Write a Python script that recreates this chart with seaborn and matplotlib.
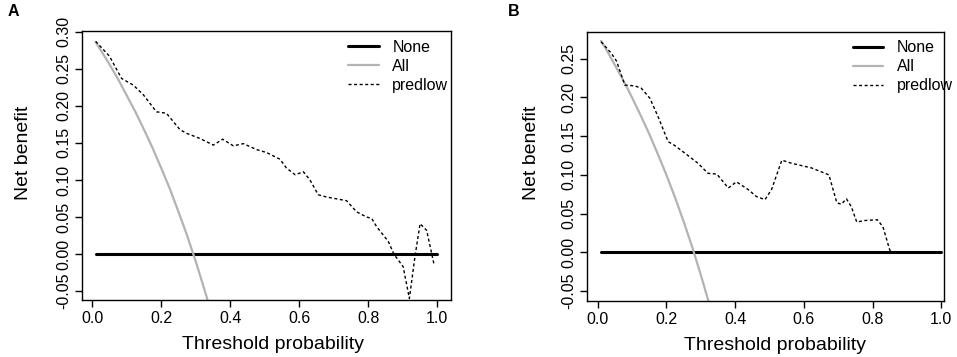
import numpy as np
import seaborn as sns
import matplotlib
matplotlib.use("Agg")
import matplotlib.pyplot as plt

# Panel A data
a_all_x = [0.01, 0.025, 0.05, 0.075, 0.10, 0.125, 0.15, 0.175, 0.20, 0.225, 0.25, 0.275, 0.30, 0.32, 0.34]
a_all_y = [0.286, 0.275, 0.256, 0.236, 0.214, 0.192, 0.168, 0.143, 0.116, 0.088, 0.057, 0.025, -0.010, -0.040, -0.071]
a_pred_x = [0.01, 0.05, 0.085, 0.119, 0.148, 0.186, 0.215, 0.254, 0.273, 0.312, 0.351, 0.378, 0.409,
            0.438, 0.476, 0.505, 0.544, 0.563, 0.588, 0.612, 0.631, 0.655, 0.679, 0.737, 0.766, 0.795,
            0.81, 0.824, 0.858, 0.874, 0.901, 0.919, 0.935, 0.95, 0.969, 0.99]
a_pred_y = [0.287, 0.267, 0.237, 0.228, 0.215, 0.192, 0.190, 0.168, 0.163, 0.156, 0.147, 0.155, 0.146,
            0.149, 0.141, 0.137, 0.128, 0.116, 0.107, 0.111, 0.100, 0.080, 0.077, 0.072, 0.057, 0.050,
            0.048, 0.037, 0.017, 0.000, -0.017, -0.060, -0.004, 0.041, 0.032, -0.013]

# Panel B data
b_all_x = [0.01, 0.025, 0.05, 0.075, 0.10, 0.125, 0.15, 0.175, 0.20, 0.225, 0.25, 0.275, 0.30, 0.325]
b_all_y = [0.273, 0.262, 0.242, 0.222, 0.200, 0.177, 0.153, 0.127, 0.100, 0.071, 0.040, 0.007, -0.029, -0.067]
b_pred_x = [0.01, 0.04, 0.055, 0.079, 0.108, 0.127, 0.152, 0.176, 0.205, 0.224, 0.254, 0.292, 0.321,
            0.347, 0.380, 0.404, 0.438, 0.462, 0.487, 0.506, 0.536, 0.564, 0.622, 0.673, 0.696, 0.709,
            0.724, 0.738, 0.754, 0.777, 0.814, 0.830, 0.850, 0.858]
b_pred_y = [0.272, 0.257, 0.247, 0.216, 0.215, 0.212, 0.199, 0.175, 0.143, 0.138, 0.128, 0.115, 0.102,
            0.101, 0.083, 0.091, 0.081, 0.072, 0.068, 0.081, 0.119, 0.115, 0.109, 0.100, 0.064, 0.062,
            0.069, 0.059, 0.039, 0.041, 0.042, 0.033, 0.003, -0.002]

none_x = [0.01, 1.0]
none_y = [0.0, 0.0]

x_ticks = [0.0, 0.2, 0.4, 0.6, 0.8, 1.0]
a_y_ticks = [-0.05, 0.00, 0.05, 0.10, 0.15, 0.20, 0.25, 0.30]
b_y_ticks = [-0.05, 0.00, 0.05, 0.10, 0.15, 0.20, 0.25]

sns.set_style("ticks")
plt.rcParams['font.family'] = ['Liberation Sans', 'DejaVu Sans']
plt.rcParams['text.color'] = 'black'
plt.rcParams['axes.labelcolor'] = 'black'
plt.rcParams['xtick.color'] = 'black'
plt.rcParams['ytick.color'] = 'black'

fig = plt.figure(figsize=(9.57, 3.57), dpi=100)
W, H = 957, 357


def make_axes(l, r, t, b):
    return fig.add_axes([l / W, 1 - b / H, (r - l) / W, (b - t) / H])


def draw_panel(ax, all_x, all_y, pred_x, pred_y, yticks, xlim, ylim, leg_xy, xlab_x, ylab_xy):
    sns.lineplot(x=none_x, y=none_y, ax=ax, color="black", linewidth=2.2, label="None")
    sns.lineplot(x=all_x, y=all_y, ax=ax, color="#b3b3b3", linewidth=1.6, label="All")
    sns.lineplot(x=pred_x, y=pred_y, ax=ax, color="black", linewidth=1.0,
                 label="predlow").lines[-1].set_dashes((2.2, 1.8))
    ax.set_xlim(*xlim)
    ax.set_ylim(*ylim)
    ax.set_xticks(x_ticks)
    ax.set_xticklabels([f"{v:.1f}" for v in x_ticks])
    ax.set_yticks(yticks)
    ax.set_yticklabels([f"{v:.2f}" for v in yticks], rotation=90, va="center")
    ax.tick_params(labelsize=11.5, length=5, width=1, pad=3, color="black", labelcolor="black")
    for s in ax.spines.values():
        s.set_visible(True)
        s.set_linewidth(1.0)
        s.set_color("black")
    ax.set_xlabel("Threshold probability", fontsize=14, color="black")
    ax.set_ylabel("Net benefit", fontsize=14, color="black")
    ax.xaxis.set_label_coords(xlab_x, -0.135)
    ax.yaxis.set_label_coords(*ylab_xy)
    leg = ax.legend(loc="upper left", bbox_to_anchor=leg_xy, frameon=False, fontsize=11.5,
                    handlelength=1.9, handletextpad=0.85, labelspacing=0.25,
                    borderpad=0, borderaxespad=0)
    for t in leg.get_texts():
        t.set_color("black")


ax_a = make_axes(82, 451, 31, 300)
draw_panel(ax_a, a_all_x, a_all_y, a_pred_x, a_pred_y, a_y_ticks,
           (-0.0296, 1.0396), (-0.062, 0.301), (0.722, 0.968), 0.517, (-0.135, 0.546))

ax_b = make_axes(587, 943.7, 31.7, 301)
draw_panel(ax_b, b_all_x, b_all_y, b_pred_x, b_pred_y, b_y_ticks,
           (-0.031, 1.007), (-0.063, 0.285), (0.746, 0.968), 0.528, (-0.131, 0.55))

fig.text(13.3 / W, 1 - 11.5 / H, "A", fontsize=11.5, fontweight="bold", ha="center", va="center")
fig.text(513.8 / W, 1 - 12 / H, "B", fontsize=11.5, fontweight="bold", ha="center", va="center")

fig.savefig("out.png", dpi=100)
